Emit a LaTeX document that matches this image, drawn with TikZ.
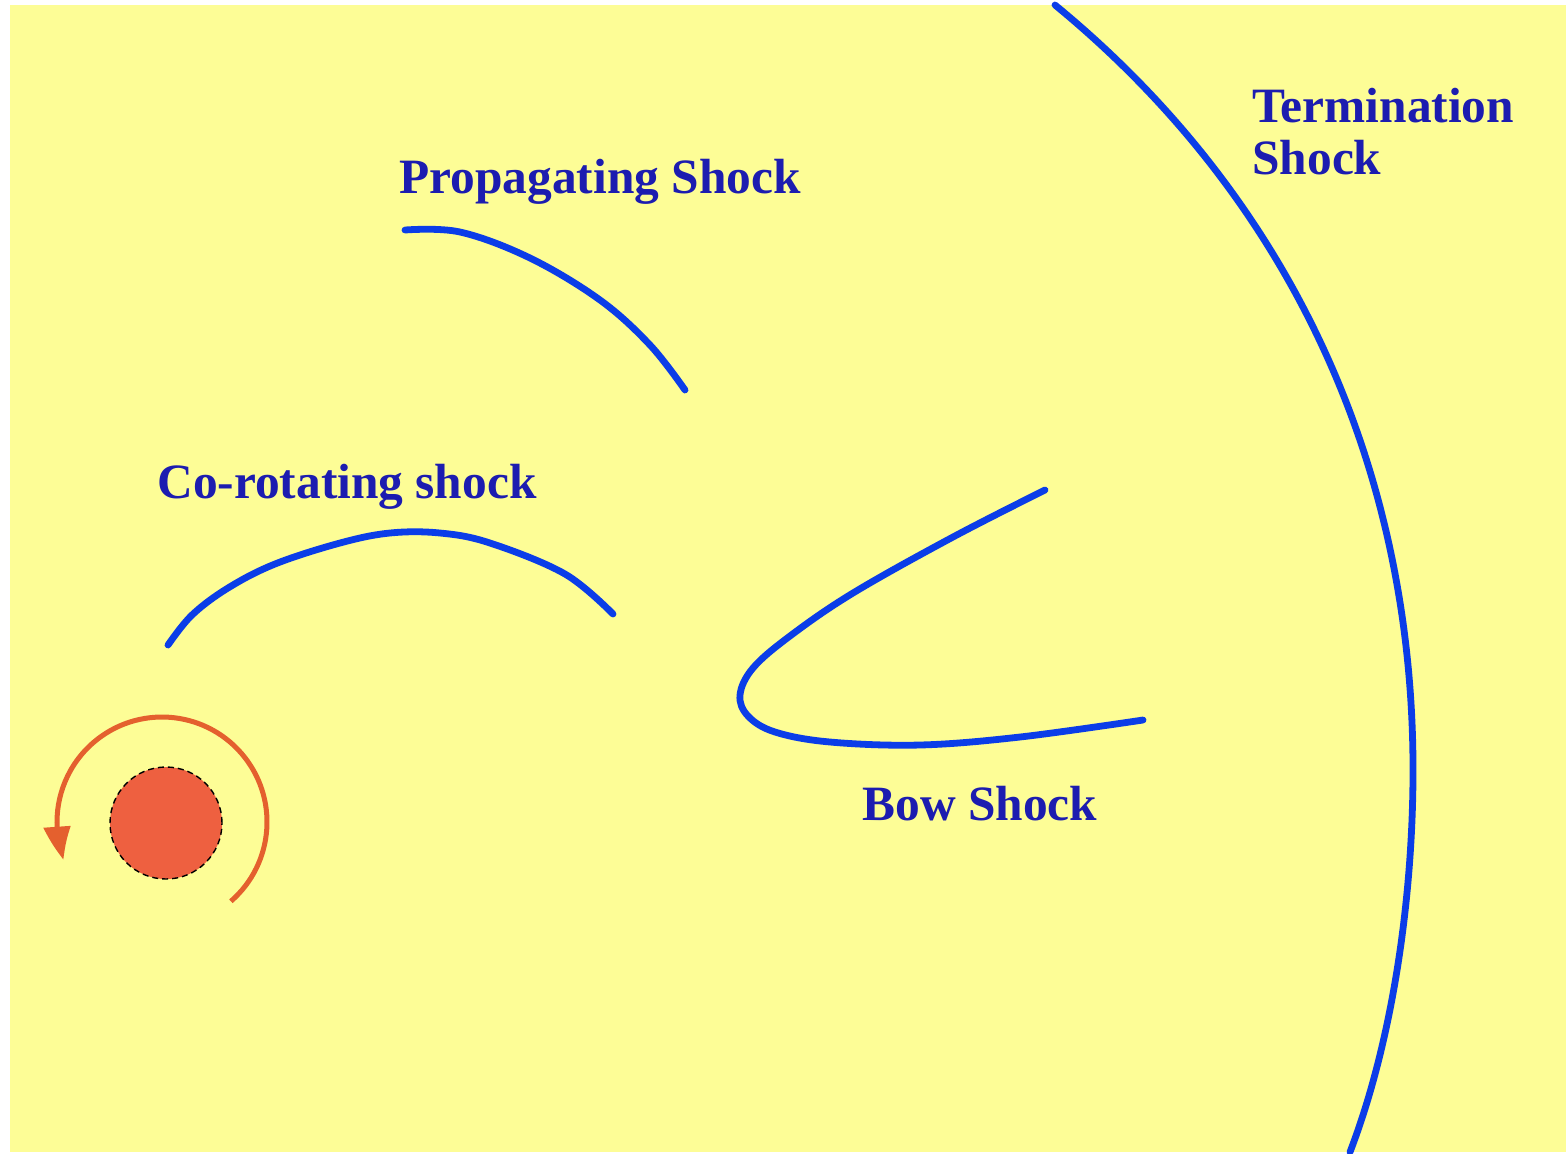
\documentclass[tikz,border=0pt]{standalone}
\usepackage{fontspec}
\setmainfont{Liberation Serif}
\usetikzlibrary{arrows.meta,bending}
\definecolor{bgyellow}{HTML}{FDFD96}
\definecolor{shockblue}{HTML}{0B3DE8}
\definecolor{labelblue}{HTML}{1C1CB0}
\definecolor{sunred}{HTML}{EE6040}
\definecolor{arrowred}{HTML}{E4602E}
\tikzset{
  shock/.style={draw=shockblue, line width=3.4pt, line cap=round, line join=round},
  lbl/.style={anchor=base west, inner sep=0pt, text=labelblue,
    font=\fontsize{24.7}{27}\selectfont\bfseries},
  spin/.style={draw=arrowred, line width=2.5pt, -{Triangle[length=17pt,width=13pt,bend]}},
}
\begin{document}
\begin{tikzpicture}[x=0.5pt,y=-0.5pt]
\useasboundingbox (0,0) rectangle (1566,1153);
\fill[white] (0,0) rectangle (1566,1153);
\fill[bgyellow] (10,5) rectangle (1566,1152);

% Termination shock
\draw[shock] (1055,5) .. controls (1290,198) and (1413,466) .. (1413,770)
  .. controls (1413,893) and (1394,1037) .. (1350,1152);

% Propagating shock
\draw[shock] plot[smooth, tension=0.6] coordinates {
  (405,230) (460,232) (530,258) (600,300) (650,345) (685,390)};

% Co-rotating shock
\draw[shock] plot[smooth, tension=0.6] coordinates {
  (168,645) (192,615) (228,588) (275,564) (340,543) (390,533) (440,533)
  (490,543) (565,574) (613,614)};

% Bow shock
\draw[shock] plot[smooth, tension=0.6] coordinates {
  (1045,490) (953,537) (853,593) (790,636) (753,668) (740,695) (748,716)
  (775,732) (830,742) (920,745) (1020,737) (1143,720)};

% Labels
\node[lbl] (prop) at (399,193) {Propagating Shock};
\node[lbl] (corot) at (157,498) {Co-rotating shock};
\node[lbl] (term) at (1252,122) {Termination};
\node[lbl] (term2) at (1252,174) {Shock};
\node[lbl] (bow) at (862,820) {Bow Shock};

% Sun
\node[circle, fill=sunred, draw=black, densely dashed, line width=0.7pt,
  minimum size=56pt, inner sep=0pt] (sun) at (166,823) {};

% Rotation arrow
\draw[spin] (sun.center) ++(-4,-1) ++(49:105)
  arc[start angle=49, end angle=-201, radius=105];
\end{tikzpicture}
\end{document}
